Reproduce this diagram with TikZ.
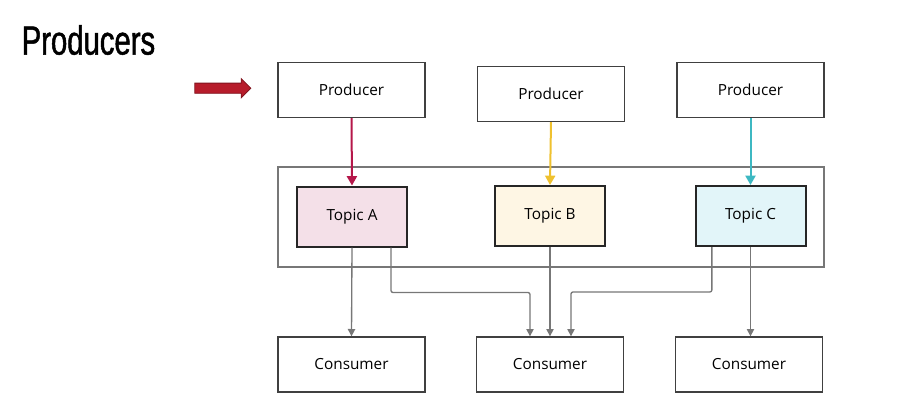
\documentclass[tikz,border=0pt]{standalone}
\usepackage{fontspec}
\setmainfont{Open Sans}
\newfontfamily\titlefont[FakeStretch=0.72, FakeBold=1.2]{Liberation Sans}
\usepackage[dvipsnames]{xcolor}
\usetikzlibrary{positioning, arrows.meta, shapes.arrows}

\definecolor{arrowred}{HTML}{B71C2B}
\definecolor{lineA}{HTML}{B5174A}
\definecolor{lineB}{HTML}{EFC12F}
\definecolor{lineC}{HTML}{3DB8C2}
\definecolor{fillA}{HTML}{F4E0E8}
\definecolor{fillB}{HTML}{FEF6E4}
\definecolor{fillC}{HTML}{E2F5F9}
\definecolor{wire}{HTML}{777777}

\tikzset{
	box/.style={draw=black!75, line width=1pt, minimum width=110.25pt, minimum height=41.25pt, font=\fontsize{11.5}{13}\selectfont},
	topic/.style={draw=black!85, line width=1.5pt, minimum width=82.5pt, minimum height=45pt, font=\fontsize{11.5}{13}\selectfont},
	feed/.style={line width=1.5pt, -{Triangle[width=7.5pt,length=7pt]}},
	wireto/.style={draw=wire, line width=1pt, rounded corners=1.5pt, -{Triangle[width=5.5pt,length=5.5pt]}},
}

\begin{document}
\begin{tikzpicture}[x=0.75pt, y=-0.75pt]
	\useasboundingbox (0,0) rectangle (897,411);
	\node[anchor=west, font=\titlefont\fontsize{30.5}{32}\selectfont] (title) at (17,40) {Producers};
	\node[single arrow, fill=arrowred, draw=arrowred!70!black, line width=.6pt, minimum height=42pt, inner xsep=0pt, inner ysep=3.5pt, single arrow head extend=3.4pt, single arrow tip angle=90] (marker) at (220.3,88.2) {};

	\node[box] (prod1) at (351.5,90) {Producer};
	\node[box] (prod2) at (551,94) {Producer};
	\node[box] (prod3) at (750.5,90) {Producer};

	\draw[draw=wire, line width=1pt] (278,167) rectangle (824,267);
	\node[topic, fill=fillA] (topicA) at (352,216.5) {Topic A};
	\node[topic, fill=fillB] (topicB) at (550,216) {Topic B};
	\node[topic, fill=fillC] (topicC) at (750.5,216) {Topic C};

	\node[box] (cons1) at (351.5,364.5) {Consumer};
	\node[box] (cons2) at (550,364.5) {Consumer};
	\node[box] (cons3) at (749,364.5) {Consumer};

	\draw[feed, lineA] (prod1.south) -- (topicA.north);
	\draw[feed, lineB] (prod2.south) -- (topicB.north);
	\draw[feed, lineC] (prod3.south) -- (topicC.north);

	\draw[wireto] (topicA.south) -- (cons1.north);
	\draw[wireto] ([xshift=29.25pt]topicA.south) --++(0,45) coordinate (aux) -| ([xshift=-15pt]cons2.north);
	\draw[wireto] (topicB.south) -- (cons2.north);
	\draw[wireto] ([xshift=-29pt]topicC.south) --++(0,45) coordinate (aux) -| ([xshift=15.75pt]cons2.north);
	\draw[wireto] (topicC.south) -- (topicC.south |- cons3.north);
\end{tikzpicture}
\end{document}
